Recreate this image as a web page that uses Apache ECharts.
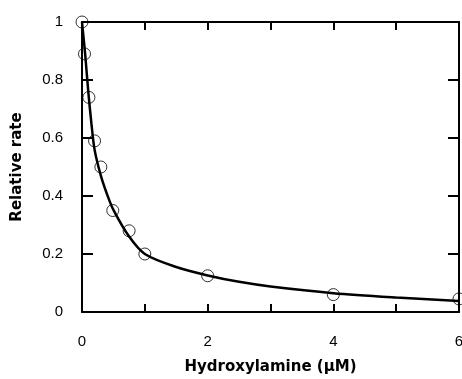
<!DOCTYPE html>
<html>
<head>
<meta charset="utf-8">
<script src="https://cdn.jsdelivr.net/npm/echarts@6/dist/echarts.min.js"></script>
<style>
  html, body { margin: 0; padding: 0; background: #fff; }
  #chart { width: 462px; height: 379px; }
</style>
</head>
<body>
<div id="chart"></div>
<script>
// measured points
const pointX = [0, 0.04, 0.11, 0.2, 0.3, 0.49, 0.75, 1, 2, 4, 6]
const pointY = [1, 0.89, 0.74, 0.59, 0.5, 0.35, 0.28, 0.2, 0.125, 0.06, 0.045]

// fitted curve
const curveX = [0, 0.05, 0.1, 0.15, 0.2, 0.3, 0.4, 0.5, 0.75, 1, 1.5, 2, 2.5, 3, 4, 5, 6]
const curveY = [1, 0.89, 0.76, 0.65, 0.56, 0.47, 0.405, 0.352, 0.26, 0.2, 0.155, 0.126, 0.104, 0.088, 0.065, 0.05, 0.038]

const xTickLabels = ['0', '', '2', '', '4', '', '6']
const yTickLabels = ['0', '0.2', '0.4', '0.6', '0.8', '1']

const font = 'Liberation Sans, Arial, sans-serif'
const nameFont = 'DejaVu Sans, sans-serif'

const chart = echarts.init(document.getElementById('chart'))

const axisLine = { onZero: false, lineStyle: { color: '#000', width: 2 } }

chart.setOption({
    animation: false,
    grid: { left: 82, right: 3, top: 22, bottom: 67, outerBoundsMode: 'none', containLabel: false },
    xAxis: [{
        type: 'value',
        min: 0,
        max: 6,
        interval: 1,
        name: 'Hydroxylamine (\u03bcM)',
        nameLocation: 'middle',
        nameGap: 48,
        nameTextStyle: { fontFamily: nameFont, fontWeight: 'bold', fontSize: 15, color: '#000' },
        axisLine,
        axisTick: { inside: true, length: 8, lineStyle: { color: '#000', width: 2 } },
        axisLabel: {
            margin: 22,
            fontFamily: font,
            fontSize: 15,
            color: '#000',
            formatter: (v) => xTickLabels[Math.round(v)]
        },
        splitLine: { show: false }
    }, {
        type: 'value',
        position: 'top',
        min: 0,
        max: 6,
        interval: 1,
        axisLine,
        axisTick: { inside: true, length: 8, lineStyle: { color: '#000', width: 2 } },
        axisLabel: { show: false },
        splitLine: { show: false }
    }],
    yAxis: [{
        type: 'value',
        min: 0,
        max: 1,
        interval: 0.2,
        name: 'Relative rate',
        nameLocation: 'middle',
        nameGap: 57,
        nameTextStyle: { fontFamily: nameFont, fontWeight: 'bold', fontSize: 15, color: '#000' },
        axisLine,
        axisTick: { inside: true, length: 11, lineStyle: { color: '#000', width: 2 } },
        axisLabel: {
            margin: 19,
            fontFamily: font,
            fontSize: 15,
            color: '#000',
            formatter: (v) => yTickLabels[Math.round(v * 5)]
        },
        splitLine: { show: false }
    }, {
        type: 'value',
        position: 'right',
        min: 0,
        max: 1,
        interval: 0.2,
        axisLine,
        axisTick: { inside: true, length: 11, lineStyle: { color: '#000', width: 2 } },
        axisLabel: { show: false },
        splitLine: { show: false }
    }],
    series: [{
        type: 'line',
        data: curveX.map((x, i) => [x, curveY[i]]),
        smooth: 0.3,
        showSymbol: false,
        lineStyle: { color: '#000', width: 2.5 },
        z: 2
    }, {
        type: 'scatter',
        data: pointX.map((x, i) => [x, pointY[i]]),
        symbol: 'circle',
        symbolSize: 12,
        clip: false,
        itemStyle: { color: 'rgba(0,0,0,0)', borderColor: '#000', borderWidth: 1 },
        z: 3
    }]
})
</script>
</body>
</html>
